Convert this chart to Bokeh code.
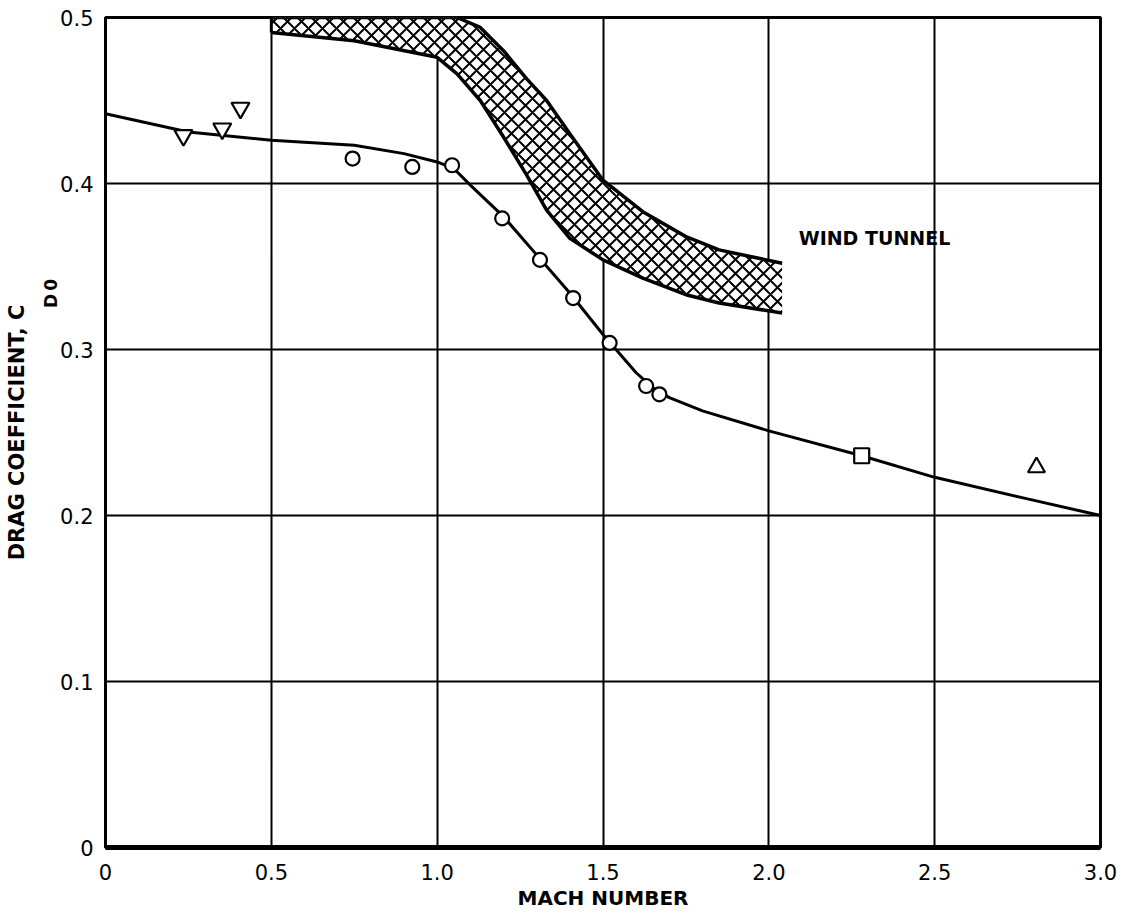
import math
from bokeh.plotting import figure
from bokeh.models import Range1d, FixedTicker, Label, LinearAxis
from bokeh.embed import file_html
from bokeh.resources import INLINE

# ---- data ----
curve_mach = [0.0, 0.25, 0.5, 0.75, 0.9, 1.0, 1.05, 1.1, 1.2, 1.3, 1.4, 1.5,
              1.6, 1.65, 1.7, 1.8, 2.0, 2.28, 2.5, 2.78, 3.0]
curve_cd = [0.442, 0.431, 0.426, 0.423, 0.418, 0.413, 0.409, 0.399, 0.380, 0.357,
            0.334, 0.309, 0.286, 0.277, 0.271, 0.263, 0.251, 0.236, 0.223, 0.210, 0.200]

circle_mach = [0.745, 0.925, 1.045, 1.196, 1.31, 1.41, 1.52, 1.63, 1.67]
circle_cd = [0.415, 0.410, 0.411, 0.379, 0.354, 0.331, 0.304, 0.278, 0.273]

invtri_mach = [0.235, 0.352, 0.407]
invtri_cd = [0.429, 0.433, 0.4455]

square_mach = [2.28]
square_cd = [0.236]

tri_mach = [2.807]
tri_cd = [0.229]

band_mach = [0.5, 0.75, 1.0, 1.06, 1.13, 1.2, 1.27, 1.33, 1.4, 1.5, 1.62, 1.75, 1.85, 2.04]
band_upper = [0.5, 0.5, 0.5, 0.5, 0.494, 0.480, 0.463, 0.450, 0.430, 0.402, 0.383, 0.368, 0.360, 0.352]
band_lower = [0.491, 0.486, 0.476, 0.466, 0.450, 0.428, 0.405, 0.384, 0.367, 0.354, 0.343, 0.333, 0.328, 0.322]

x_ticks = [0, 0.5, 1.0, 1.5, 2.0, 2.5, 3.0]
x_tick_labels = ["0", "0.5", "1.0", "1.5", "2.0", "2.5", "3.0"]
y_ticks = [0, 0.1, 0.2, 0.3, 0.4, 0.5]
y_tick_labels = ["0", "0.1", "0.2", "0.3", "0.4", "0.5"]

# subscript characters of the y title, placed along the y scale
sub_pos = [0.3335, 0.3425]
sub_text = ["D", "0"]

FONT = "DejaVu Sans"

p = figure(width=1122, height=913, output_backend="svg", toolbar_location=None,
           x_range=Range1d(0, 3.0), y_range=Range1d(0, 0.5),
           min_border_left=105, min_border_right=22, min_border_top=17, min_border_bottom=66)

p.background_fill_color = "white"
p.border_fill_color = "white"
p.outline_line_color = "black"
p.outline_line_width = 3

for ax in (p.xaxis[0], p.yaxis[0]):
    ax.major_tick_line_color = None
    ax.minor_tick_line_color = None
    ax.axis_line_color = "black"
    ax.axis_line_width = 3
    ax.major_label_text_font = FONT
    ax.major_label_text_font_size = "21px"
    ax.major_label_text_color = "black"
    ax.axis_label_text_font = FONT
    ax.axis_label_text_font_style = "bold"
    ax.axis_label_text_font_size = "20px"
    ax.axis_label_text_color = "black"

p.xaxis.ticker = FixedTicker(ticks=x_ticks)
p.xaxis.major_label_overrides = {t: l for t, l in zip(x_ticks, x_tick_labels)}
p.xaxis.major_label_standoff = 10
p.xaxis.axis_line_width = 5
p.xaxis.axis_label = "MACH NUMBER"
p.xaxis.axis_label_standoff = 3

p.yaxis.ticker = FixedTicker(ticks=y_ticks)
p.yaxis.major_label_overrides = {t: l for t, l in zip(y_ticks, y_tick_labels)}
p.yaxis.major_label_standoff = 6

# outer axis: carries the subscripts as tick labels and the title as its label
sub_axis = LinearAxis(ticker=FixedTicker(ticks=sub_pos),
                      major_label_overrides={t: s for t, s in zip(sub_pos, sub_text)},
                      axis_label="DRAG COEFFICIENT, C",
                      axis_line_color=None, major_tick_line_color=None, minor_tick_line_color=None,
                      major_label_standoff=0, major_label_orientation=math.pi / 2,
                      major_label_text_font=FONT, major_label_text_font_style="bold",
                      major_label_text_font_size="17px", major_label_text_color="black",
                      axis_label_standoff=0, axis_label_text_font=FONT,
                      axis_label_text_font_style="bold", axis_label_text_font_size="21px",
                      axis_label_text_color="black")
p.add_layout(sub_axis, "left")

p.xgrid.ticker = FixedTicker(ticks=x_ticks)
p.ygrid.ticker = FixedTicker(ticks=y_ticks)
for g in (p.xgrid[0], p.ygrid[0]):
    g.grid_line_color = "black"
    g.grid_line_width = 2
    g.grid_line_alpha = 1.0

# wind tunnel band (cross-hatched)
p.varea(x=band_mach, y1=band_lower, y2=band_upper, fill_color="white", fill_alpha=1.0,
        hatch_pattern="x", hatch_color="black", hatch_scale=14, hatch_weight=2)
p.line(band_mach, band_upper, line_color="black", line_width=3.5)
p.line(band_mach, band_lower, line_color="black", line_width=3.5)
p.line([band_mach[0], band_mach[0]], [band_lower[0], band_upper[0]], line_color="black", line_width=3)

# faired curve
p.line(curve_mach, curve_cd, line_color="black", line_width=3)

# data points
p.scatter(circle_mach, circle_cd, marker="circle", size=14, fill_color="white",
          line_color="black", line_width=2.2)
p.scatter(invtri_mach, invtri_cd, marker="inverted_triangle", size=18, fill_color="white",
          line_color="black", line_width=2.2)
p.scatter(square_mach, square_cd, marker="square", size=15, fill_color="white",
          line_color="black", line_width=2.2)
p.scatter(tri_mach, tri_cd, marker="triangle", size=17, fill_color="white",
          line_color="black", line_width=2.2)

p.add_layout(Label(x=2.09, y=0.367, text="WIND TUNNEL", text_font=FONT, text_font_style="bold",
                   text_font_size="19px", text_color="black", text_baseline="middle",
                   text_align="left"))

open("out.html", "w").write(file_html(p, INLINE))
